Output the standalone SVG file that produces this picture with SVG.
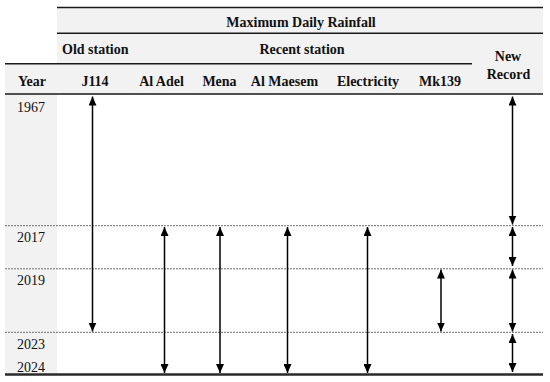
<svg xmlns="http://www.w3.org/2000/svg" width="550" height="382" viewBox="0 0 550 382">
<style>
  .bg{fill:#f2f2f2}
  .rule{stroke:#1a1a1a;stroke-width:1.4;fill:none}
  .thick{stroke:#2a2a2a;stroke-width:2.6;fill:none}
  .dot{stroke:#6e6e6e;stroke-width:1;stroke-dasharray:2 1;fill:none}
  .h{font-family:"Liberation Serif","Times New Roman",serif;font-weight:bold;font-size:14px;fill:#111}
  .y{font-family:"Liberation Serif","Times New Roman",serif;font-size:14px;fill:#111}
  .arr{stroke:#000;stroke-width:1.5;fill:none;marker-start:url(#ah);marker-end:url(#ah)}
</style>
<defs>
  <marker id="ah" viewBox="0 0 9 8" refX="9" refY="4" markerWidth="9" markerHeight="8" markerUnits="userSpaceOnUse" orient="auto-start-reverse">
    <path d="M0,0 L9,4 L0,8 Z" fill="#000"/>
  </marker>
</defs>
<g id="table">
  <rect class="bg" x="57" y="7.5" width="486" height="87"/>
  <rect class="bg" x="5" y="63.5" width="52" height="31"/>
  <rect class="bg" x="5" y="94" width="52" height="281"/>
  <line class="dot" x1="5" y1="225.7" x2="543" y2="225.7"/>
  <line class="dot" x1="5" y1="268.8" x2="543" y2="268.8"/>
  <line class="dot" x1="5" y1="332.3" x2="543" y2="332.3"/>
  <line class="rule" x1="57" y1="7.5" x2="543" y2="7.5"/>
  <line class="rule" x1="57" y1="33.3" x2="543" y2="33.3"/>
  <line class="rule" x1="5" y1="63.8" x2="472" y2="63.8"/>
  <line class="rule" x1="5" y1="94" x2="543" y2="94"/>
  <line class="thick" x1="5" y1="374.5" x2="543" y2="374.5"/>
</g>
<g id="headers">
  <text class="h" x="301" y="26.5" text-anchor="middle">Maximum Daily Rainfall</text>
  <text class="h" x="62" y="54">Old station</text>
  <text class="h" x="302" y="54" text-anchor="middle">Recent station</text>
  <text class="h" x="508" y="61" text-anchor="middle">New</text>
  <text class="h" x="508.5" y="79" text-anchor="middle">Record</text>
  <text class="h" x="32" y="85.5" text-anchor="middle">Year</text>
  <text class="h" x="95" y="85.5" text-anchor="middle">J114</text>
  <text class="h" x="161.5" y="85.5" text-anchor="middle">Al Adel</text>
  <text class="h" x="219.5" y="85.5" text-anchor="middle">Mena</text>
  <text class="h" x="284.5" y="85.5" text-anchor="middle">Al Maesem</text>
  <text class="h" x="368" y="85.5" text-anchor="middle">Electricity</text>
  <text class="h" x="440" y="85.5" text-anchor="middle">Mk139</text>
</g>
<g id="years">
  <text class="y" x="17" y="111.5">1967</text>
  <text class="y" x="17" y="242">2017</text>
  <text class="y" x="17" y="285">2019</text>
  <text class="y" x="17" y="349">2023</text>
  <text class="y" x="17" y="371.5">2024</text>
</g>
<g id="connectors">
  <line class="arr" x1="92.5" y1="96.5" x2="92.5" y2="331.5"/>
  <line class="arr" x1="164.5" y1="227" x2="164.5" y2="373"/>
  <line class="arr" x1="220" y1="227" x2="220" y2="373"/>
  <line class="arr" x1="287.5" y1="227" x2="287.5" y2="373"/>
  <line class="arr" x1="367.5" y1="227" x2="367.5" y2="373"/>
  <line class="arr" x1="441" y1="269.5" x2="441" y2="331.5"/>
  <line class="arr" x1="512.5" y1="96.5" x2="512.5" y2="224.5"/>
  <line class="arr" x1="512.5" y1="227" x2="512.5" y2="266"/>
  <line class="arr" x1="512.5" y1="269.5" x2="512.5" y2="331.5"/>
  <line class="arr" x1="512.5" y1="334" x2="512.5" y2="372"/>
</g>
</svg>
